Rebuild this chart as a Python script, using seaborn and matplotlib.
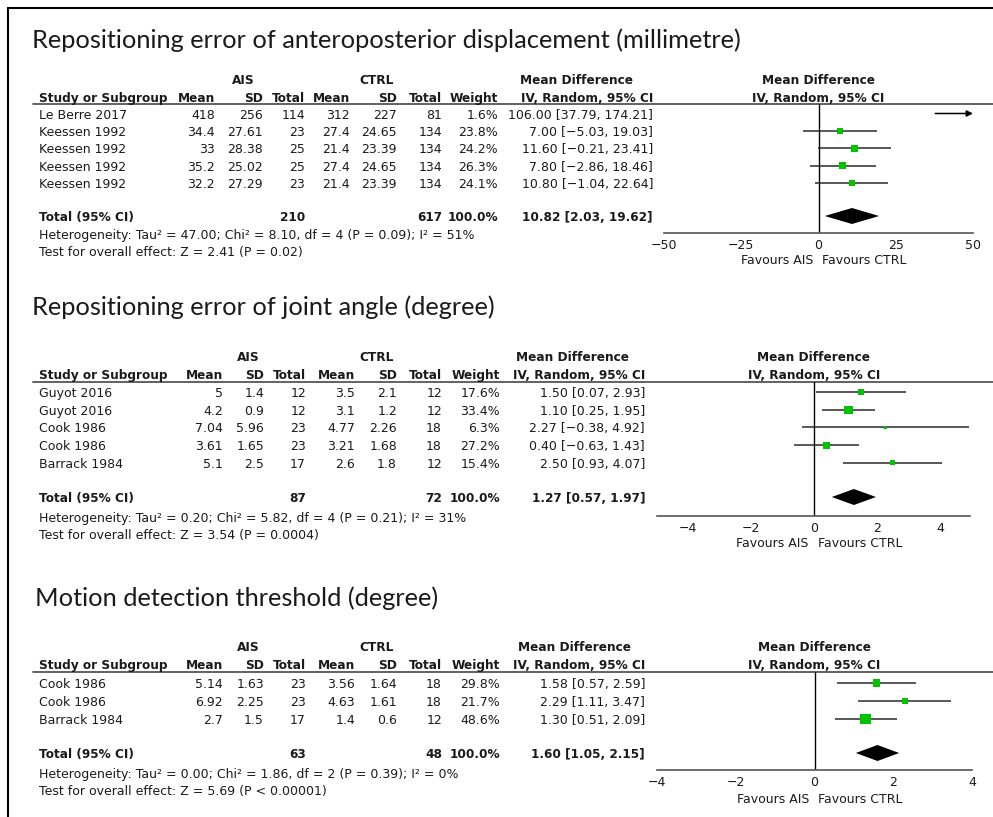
import numpy as np
import matplotlib

matplotlib.use('Agg')
import matplotlib.pyplot as plt
import pandas as pd
import seaborn as sns

W, H = 993, 817
GREEN = '#00c400'
INK = '#1a1a1a'

# ---- panel 1: anteroposterior displacement ----
p1_title = 'Repositioning error of anteroposterior displacement (millimetre)'
p1_study = ['Le Berre 2017', 'Keessen 1992', 'Keessen 1992', 'Keessen 1992', 'Keessen 1992']
p1_ais_mean = [418, 34.4, 33, 35.2, 32.2]
p1_ais_sd = [256, 27.61, 28.38, 25.02, 27.29]
p1_ais_n = [114, 23, 25, 25, 23]
p1_ctrl_mean = [312, 27.4, 21.4, 27.4, 21.4]
p1_ctrl_sd = [227, 24.65, 23.39, 24.65, 23.39]
p1_ctrl_n = [81, 134, 134, 134, 134]
p1_weight = [1.6, 23.8, 24.2, 26.3, 24.1]
p1_md = [106.00, 7.00, 11.60, 7.80, 10.80]
p1_lo = [37.79, -5.03, -0.21, -2.86, -1.04]
p1_hi = [174.21, 19.03, 23.41, 18.46, 22.64]
p1_tot_n = [210, 617]
p1_tot_w = 100.0
p1_tot_md = [10.82, 2.03, 19.62]
p1_het = 'Heterogeneity: Tau² = 47.00; Chi² = 8.10, df = 4 (P = 0.09); I² = 51%'
p1_test = 'Test for overall effect: Z = 2.41 (P = 0.02)'
p1_ticks = [-50, -25, 0, 25, 50]

# ---- panel 2: joint angle ----
p2_title = 'Repositioning error of joint angle (degree)'
p2_study = ['Guyot 2016', 'Guyot 2016', 'Cook 1986', 'Cook 1986', 'Barrack 1984']
p2_ais_mean = [5, 4.2, 7.04, 3.61, 5.1]
p2_ais_sd = [1.4, 0.9, 5.96, 1.65, 2.5]
p2_ais_n = [12, 12, 23, 23, 17]
p2_ctrl_mean = [3.5, 3.1, 4.77, 3.21, 2.6]
p2_ctrl_sd = [2.1, 1.2, 2.26, 1.68, 1.8]
p2_ctrl_n = [12, 12, 18, 18, 12]
p2_weight = [17.6, 33.4, 6.3, 27.2, 15.4]
p2_md = [1.50, 1.10, 2.27, 0.40, 2.50]
p2_lo = [0.07, 0.25, -0.38, -0.63, 0.93]
p2_hi = [2.93, 1.95, 4.92, 1.43, 4.07]
p2_tot_n = [87, 72]
p2_tot_w = 100.0
p2_tot_md = [1.27, 0.57, 1.97]
p2_het = 'Heterogeneity: Tau² = 0.20; Chi² = 5.82, df = 4 (P = 0.21); I² = 31%'
p2_test = 'Test for overall effect: Z = 3.54 (P = 0.0004)'
p2_ticks = [-4, -2, 0, 2, 4]

# ---- panel 3: motion detection threshold ----
p3_title = 'Motion detection threshold (degree)'
p3_study = ['Cook 1986', 'Cook 1986', 'Barrack 1984']
p3_ais_mean = [5.14, 6.92, 2.7]
p3_ais_sd = [1.63, 2.25, 1.5]
p3_ais_n = [23, 23, 17]
p3_ctrl_mean = [3.56, 4.63, 1.4]
p3_ctrl_sd = [1.64, 1.61, 0.6]
p3_ctrl_n = [18, 18, 12]
p3_weight = [29.8, 21.7, 48.6]
p3_md = [1.58, 2.29, 1.30]
p3_lo = [0.57, 1.11, 0.51]
p3_hi = [2.59, 3.47, 2.09]
p3_tot_n = [63, 48]
p3_tot_w = 100.0
p3_tot_md = [1.60, 1.05, 2.15]
p3_het = 'Heterogeneity: Tau² = 0.00; Chi² = 1.86, df = 2 (P = 0.39); I² = 0%'
p3_test = 'Test for overall effect: Z = 5.69 (P < 0.00001)'
p3_ticks = [-4, -2, 0, 2, 4]

header_cols = ['Mean', 'SD', 'Total', 'Mean', 'SD', 'Total', 'Weight']


def minus(s):
    return s.replace('-', '\u2212')


def ci_text(md, lo, hi):
    return minus(f'{md:.2f} [{lo:.2f}, {hi:.2f}]')


def make_df(study, am, asd, an, cm, csd, cn, w, md, lo, hi):
    return pd.DataFrame({'study': study, 'ais_mean': am, 'ais_sd': asd, 'ais_n': an,
                         'ctrl_mean': cm, 'ctrl_sd': csd, 'ctrl_n': cn,
                         'weight': w, 'md': md, 'lo': lo, 'hi': hi})


def draw_panel(fig, bg, df, title, tot_n, tot_w, tot_md, het, test, ticks, lay):
    kw = dict(fontsize=9, color=INK, va='center_baseline')
    bold = dict(kw, fontweight='bold', fontsize=8.7)

    bg.text(lay['title_x'], lay['title'], title, family='Lato', fontsize=18.3,
            color=INK, va='center', ha='left')

    # header rows
    c = lay['cols']
    bg.text(lay['ais_x'], lay['h1'], 'AIS', ha='center', **bold)
    bg.text(lay['ctrl_x'], lay['h1'], 'CTRL', ha='center', **bold)
    bg.text(lay['md_head'], lay['h1'], 'Mean Difference', ha='center', **bold)
    bg.text(39, lay['h2'], 'Study or Subgroup', ha='left', **bold)
    for x, name in zip(c, header_cols):
        bg.text(x, lay['h2'], name, ha='right', **bold)
    bg.text(lay['ci_x'], lay['h2'], 'IV, Random, 95% CI', ha='right', **bold)
    bg.plot([33, W], [lay['line'], lay['line']], color='#555555', lw=1.3)

    # study rows
    ys = lay['row0'] + lay['dy'] * np.arange(len(df))
    for y, r in zip(ys, df.itertuples()):
        bg.text(39, y, r.study, ha='left', **kw)
        vals = [format(r.ais_mean, 'g'), format(r.ais_sd, 'g'), str(r.ais_n),
                format(r.ctrl_mean, 'g'), format(r.ctrl_sd, 'g'), str(r.ctrl_n),
                f'{r.weight:.1f}%']
        for x, v in zip(c, vals):
            bg.text(x, y, v, ha='right', **kw)
        bg.text(lay['ci_x'], y, ci_text(r.md, r.lo, r.hi), ha='right', **kw)

    # total rows
    t = lay['total']
    bg.text(39, t, 'Total (95% CI)', ha='left', **bold)
    bg.text(c[2], t, str(tot_n[0]), ha='right', **bold)
    bg.text(c[5], t, str(tot_n[1]), ha='right', **bold)
    bg.text(c[6], t, f'{tot_w:.1f}%', ha='right', **bold)
    bg.text(lay['ci_x'], t, ci_text(*tot_md), ha='right', **bold)
    bg.text(39, lay['het'], het, ha='left', **kw)
    bg.text(39, lay['test'], test, ha='left', **kw)

    # forest plot
    fx0, fx1 = lay['fx']
    xlim = lay['xlim']
    ax = fig.add_axes([fx0 / W, 1 - lay['axis'] / H, (fx1 - fx0) / W,
                       (lay['axis'] - lay['line']) / H])
    ax.set_facecolor('none')
    ax.axvline(0, color='black', lw=1, zorder=1)

    df = df.assign(y=ys)
    lo_c = df.lo.clip(xlim[0], xlim[1])
    hi_c = df.hi.clip(xlim[0], xlim[1])
    inside = df.hi <= xlim[1]
    ax.hlines(df.y[inside], lo_c[inside], hi_c[inside], color='#2a2a2a', lw=1.1, zorder=2)
    for r in df[~inside].itertuples():
        ax.annotate('', xy=(xlim[1], r.y), xytext=(max(r.lo, xlim[0]), r.y),
                    arrowprops=dict(arrowstyle='-|>', color='black', lw=1.1,
                                    mutation_scale=9, shrinkA=0, shrinkB=0))

    # square side (px) grows with study weight
    shown = df[(df.md >= xlim[0]) & (df.md <= xlim[1])]
    side = (2.5 + 0.17 * shown.weight.to_numpy()) * 0.72
    sns.scatterplot(data=shown, x='md', y='y', marker='s', s=side ** 2,
                    color=GREEN, linewidth=0, legend=False, zorder=3, ax=ax)

    md, lo, hi = tot_md
    ax.fill([lo, md, hi, md], [t, t - 8, t, t + 8], color='black', lw=0, zorder=3)

    ax.set_xlim(xlim)
    ax.set_ylim(lay['axis'], lay['line'])
    ax.set(xlabel='', ylabel='')
    ax.set_yticks([])
    ax.set_xticks(ticks)
    ax.set_xticklabels([minus(str(v)) for v in ticks])
    sns.despine(ax=ax, left=True)
    ax.spines['bottom'].set_color('#555555')
    ax.spines['bottom'].set_linewidth(1.2)
    ax.tick_params(axis='x', direction='inout', length=5, width=1, color='#555555',
                   labelsize=9, labelcolor=INK, pad=1.5)

    ax.text(0, lay['h1'], 'Mean Difference', ha='center', clip_on=False, **bold)
    ax.text(0, lay['h2'], 'IV, Random, 95% CI', ha='center', clip_on=False, **bold)

    zero_px = fx0 + (0 - xlim[0]) / (xlim[1] - xlim[0]) * (fx1 - fx0)
    bg.text(zero_px - 5, lay['fav'], 'Favours AIS', ha='right', **kw)
    bg.text(zero_px + 4, lay['fav'], 'Favours CTRL', ha='left', **kw)


def main():
    sns.set_theme(style='white')
    plt.rcParams['font.family'] = ['DejaVu Sans']

    fig = plt.figure(figsize=(W / 100, H / 100), dpi=100)
    bg = fig.add_axes([0, 0, 1, 1])
    bg.set_xlim(0, W)
    bg.set_ylim(H, 0)
    bg.axis('off')
    bg.plot([8, W], [8, 8], color='black', lw=1.5)
    bg.plot([8, 8], [8, H], color='black', lw=1.5)

    lay1 = dict(title=40, title_x=32, h1=79, h2=97, line=104, row0=113.5, dy=17.4,
                total=216, het=234, test=251, axis=233, fav=259,
                fx=(664, 973), xlim=(-50, 50),
                cols=[215, 263, 305, 350, 397, 442, 498], ci_x=653,
                md_head=576, ais_x=243, ctrl_x=377)
    lay2 = dict(title=307, title_x=32, h1=356, h2=374, line=382, row0=392, dy=17.7,
                total=497, het=517, test=534, axis=516, fav=542,
                fx=(657, 970), xlim=(-4.97, 4.95),
                cols=[223, 264, 306, 355, 397, 442, 500], ci_x=645,
                md_head=573, ais_x=248, ctrl_x=377)
    lay3 = dict(title=598, title_x=35, h1=646, h2=664, line=672, row0=683, dy=18,
                total=753, het=773, test=790, axis=770, fav=798,
                fx=(657, 972), xlim=(-4, 4),
                cols=[223, 264, 306, 355, 397, 442, 500], ci_x=645,
                md_head=575, ais_x=248, ctrl_x=377)

    df1 = make_df(p1_study, p1_ais_mean, p1_ais_sd, p1_ais_n, p1_ctrl_mean, p1_ctrl_sd,
                  p1_ctrl_n, p1_weight, p1_md, p1_lo, p1_hi)
    df2 = make_df(p2_study, p2_ais_mean, p2_ais_sd, p2_ais_n, p2_ctrl_mean, p2_ctrl_sd,
                  p2_ctrl_n, p2_weight, p2_md, p2_lo, p2_hi)
    df3 = make_df(p3_study, p3_ais_mean, p3_ais_sd, p3_ais_n, p3_ctrl_mean, p3_ctrl_sd,
                  p3_ctrl_n, p3_weight, p3_md, p3_lo, p3_hi)

    draw_panel(fig, bg, df1, p1_title, p1_tot_n, p1_tot_w, p1_tot_md, p1_het, p1_test,
               p1_ticks, lay1)
    draw_panel(fig, bg, df2, p2_title, p2_tot_n, p2_tot_w, p2_tot_md, p2_het, p2_test,
               p2_ticks, lay2)
    draw_panel(fig, bg, df3, p3_title, p3_tot_n, p3_tot_w, p3_tot_md, p3_het, p3_test,
               p3_ticks, lay3)

    fig.savefig('out.png', dpi=100)
    plt.close(fig)


if __name__ == '__main__':
    main()
